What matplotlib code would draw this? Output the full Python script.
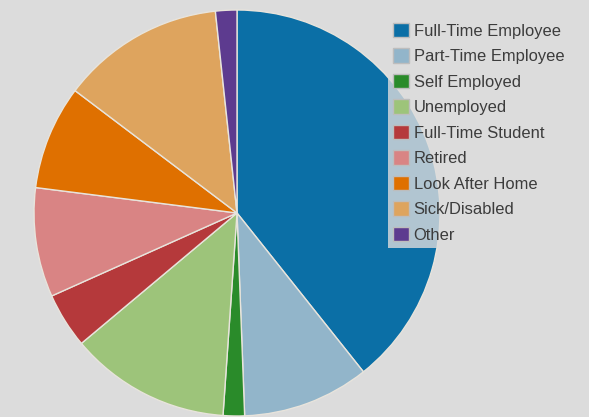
import matplotlib
matplotlib.use("Agg")
import matplotlib.pyplot as plt
from matplotlib.patches import Patch

categories = ["Full-Time Employee", "Part-Time Employee", "Self Employed", "Unemployed",
              "Full-Time Student", "Retired", "Look After Home", "Sick/Disabled", "Other"]
values = [39.3, 10.1, 1.7, 12.8, 4.4, 8.7, 8.3, 13.0, 1.7]
colors = ["#0b6fa6", "#92b5ca", "#2a8b2a", "#9dc47a", "#b5393b",
          "#d98484", "#df7000", "#dea45e", "#5d3b8f"]

bg = "#dcdcdc"
W, H = 589, 417
fig = plt.figure(figsize=(W / 100, H / 100), dpi=100, facecolor=bg)
cx, cy, r = 237, 213, 203
ax = fig.add_axes([(cx - r) / W, (H - cy - r) / H, 2 * r / W, 2 * r / H])
ax.set_facecolor(bg)
ax.pie(values, colors=colors, startangle=90, counterclock=False, radius=1,
       wedgeprops=dict(edgecolor="#e8e4dc", linewidth=1.0))
ax.set_xlim(-1, 1)
ax.set_ylim(-1, 1)
ax.set_aspect("auto")
ax.axis("off")

handles = [Patch(facecolor=c, edgecolor="#bdbdbd", linewidth=1.0) for c in colors]
leg = fig.legend(handles, categories, loc="upper left",
                 bbox_to_anchor=(388 / W, 1 - 18 / H), bbox_transform=fig.transFigure,
                 prop=dict(family="Liberation Sans", size=11.9), labelcolor="#3c3c3c",
                 handlelength=0.95, handleheight=0.95, handletextpad=0.3,
                 labelspacing=0.585, borderpad=0.3, borderaxespad=0,
                 frameon=True, fancybox=False, framealpha=0.8, facecolor=bg, edgecolor="none")

fig.savefig("out.png", dpi=100, facecolor=bg)
